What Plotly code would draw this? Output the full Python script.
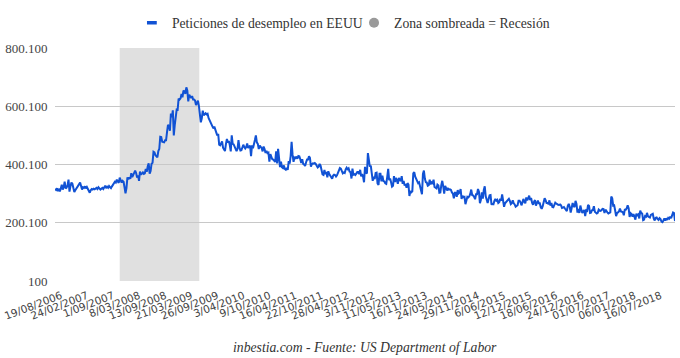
import plotly.graph_objects as go
import pandas as pd

# Weekly initial jobless claims (thousands), week ending Saturday
claims_2006 = [316, 313, 318, 309, 314, 308, 318, 331, 314, 322, 341, 318, 321, 329, 348, 307, 325, 338, 334, 316]
claims_2007 = [306, 312, 318, 324, 328, 333, 338, 326, 314, 322, 320, 325, 318, 323, 314, 309, 303,
               312, 316, 314, 317, 315, 318, 320, 316, 322, 318, 314, 317, 320, 316, 322, 327, 321,
               324, 320, 326, 322, 319, 325, 331, 334, 341, 338, 348, 342, 337, 355, 346, 338, 344, 341]
claims_2008 = [322, 301, 319, 356, 349, 356, 351, 370, 357, 366, 375, 379, 371, 355, 363, 344, 376,
               365, 369, 373, 368, 370, 385, 375, 393, 404, 369, 378, 403, 406, 444, 442, 432, 429,
               425, 446, 454, 495, 494, 478, 478, 476, 483, 483, 511, 536, 533, 516, 575, 562, 586, 500]
claims_2009 = [535, 560, 589, 588, 626, 623, 627, 642, 631, 654, 651, 643, 665, 654, 617, 640, 631,
               628, 635, 623, 623, 620, 604, 616, 619, 601, 580, 545, 559, 585, 569, 572, 576, 572,
               574, 560, 551, 545, 533, 531, 524, 530, 520, 512, 500, 505, 468, 466, 475, 479, 458, 448]
claims_2010 = [446, 470, 488, 476, 481, 467, 445, 500, 471, 469, 462, 455, 446, 454, 484, 458, 448,
               449, 459, 468, 460, 455, 460, 472, 457, 461, 465, 429, 466, 456, 476, 484, 500, 476,
               471, 453, 465, 460, 456, 445, 462, 453, 440, 447, 439, 441, 410, 436, 424, 418, 417, 414]
claims_2011 = [409, 445, 404, 454, 419, 391, 410, 391, 388, 397, 385, 382, 388, 382, 412, 403, 429,
               478, 434, 409, 424, 422, 427, 420, 429, 428, 418, 405, 418, 402, 400, 395, 408, 417,
               417, 428, 423, 393, 401, 404, 403, 405, 402, 397, 390, 393, 402, 396, 381, 366, 364,
               381, 367]
claims_2012 = [375, 356, 377, 367, 361, 355, 351, 362, 365, 364, 359, 363, 374, 380, 388, 386, 374,
               370, 373, 371, 383, 389, 384, 387, 376, 374, 352, 386, 365, 367, 364, 372, 374, 374,
               367, 382, 359, 367, 359, 339, 392, 372, 369, 439, 410, 393, 396, 372, 344, 358, 350, 371]
claims_2013 = [372, 335, 330, 368, 368, 342, 362, 344, 342, 336, 334, 357, 385, 346, 352, 339, 324,
               327, 360, 340, 354, 346, 334, 354, 346, 343, 360, 334, 344, 328, 333, 320, 336, 331,
               292, 309, 305, 308, 370, 374, 358, 350, 340, 336, 339, 323, 316, 298, 368, 379, 351, 339]
claims_2014 = [338, 327, 329, 348, 332, 339, 336, 348, 323, 320, 318, 331, 328, 303, 304, 329, 344,
               326, 300, 327, 315, 311, 317, 314, 315, 313, 304, 300, 284, 303, 303, 289, 312, 301,
               304, 316, 282, 293, 288, 289, 264, 284, 289, 287, 291, 299, 314, 295, 294, 289, 281, 298]
claims_2015 = [298, 316, 307, 267, 279, 304, 283, 313, 325, 291, 282, 268, 282, 294, 295, 262, 265,
               264, 275, 282, 276, 279, 268, 271, 282, 276, 297, 281, 255, 267, 270, 274, 277, 282,
               275, 264, 267, 277, 267, 263, 255, 259, 260, 276, 276, 271, 260, 269, 282, 272, 267, 287]
claims_2016 = [277, 284, 293, 278, 285, 269, 262, 272, 278, 259, 265, 276, 267, 267, 253, 248, 257,
               274, 284, 278, 268, 268, 264, 277, 259, 268, 254, 253, 266, 269, 266, 262, 262, 261,
               263, 260, 251, 252, 254, 249, 246, 240, 258, 265, 254, 235, 251, 268, 258, 254, 275,
               265, 235]
claims_2017 = [247, 234, 259, 246, 234, 239, 244, 223, 243, 241, 261, 258, 234, 235, 243, 244, 257,
               238, 236, 232, 234, 245, 242, 241, 244, 248, 247, 234, 245, 242, 236, 232, 234, 236,
               290, 284, 259, 260, 243, 223, 233, 238, 239, 249, 239, 238, 236, 226, 245, 245, 250, 260]
claims_2018 = [250, 220, 233, 230, 221, 230, 222, 211, 231, 226, 229, 215, 242, 233, 232, 209, 211,
               223, 221, 234, 222, 221, 218, 227, 228, 231, 214, 208, 217, 218, 213, 210, 216, 213,
               204, 202, 208, 215, 208, 215, 210, 217, 214, 221, 216, 224, 235, 233, 206]

claims_thousands = (claims_2006 + claims_2007 + claims_2008 + claims_2009 + claims_2010 +
                    claims_2011 + claims_2012 + claims_2013 + claims_2014 + claims_2015 +
                    claims_2016 + claims_2017 + claims_2018)
claims = [v * 1000 for v in claims_thousands]

first_week = "2006-08-19"
week_dates = pd.date_range(first_week, periods=len(claims), freq="7D")

x_tick_text = ["19/08/2006", "24/02/2007", "1/09/2007", "8/03/2008", "13/09/2008", "21/03/2009",
               "26/09/2009", "3/04/2010", "9/10/2010", "16/04/2011", "22/10/2011", "28/04/2012",
               "3/11/2012", "11/05/2013", "16/11/2013", "24/05/2014", "29/11/2014", "6/06/2015",
               "12/12/2015", "18/06/2016", "24/12/2016", "01/07/2017", "06/01/2018", "16/07/2018"]
x_tick_step = 27
x_tick_vals = list(week_dates[::x_tick_step])[:len(x_tick_text)]

y_tick_vals = [100, 200100, 400100, 600100, 800100]
y_tick_text = ["100", "200.100", "400.100", "600.100", "800.100"]

recession_start = "2007-12-01"
recession_end = "2009-06-30"

series_name = "Peticiones de desempleo en EEUU"
shade_name = "Zona sombreada = Recesión"
source_text = "inbestia.com - Fuente: US Department of Labor"

LINE_COLOR = "#1152d4"
SERIF = "Liberation Serif"

fig = go.Figure()
fig.add_vrect(x0=recession_start, x1=recession_end, fillcolor="#e0e0e0", opacity=1,
              layer="below", line_width=0)
fig.add_trace(go.Scatter(x=week_dates, y=claims, mode="lines", name=series_name,
                         line=dict(color=LINE_COLOR, width=2), showlegend=False,
                         hoverinfo="x+y"))
fig.add_trace(go.Scatter(x=[None], y=[None], mode="markers", name=series_name, legend="legend",
                         marker=dict(symbol="line-ew", size=7,
                                     line=dict(color=LINE_COLOR, width=3.5))))
fig.add_trace(go.Scatter(x=[None], y=[None], mode="markers", name=shade_name, legend="legend2",
                         marker=dict(symbol="circle", size=10, color="#9a9a9a")))

legend_font = dict(family=SERIF, size=13.7, color="#333333")
fig.update_layout(
    width=680, height=358,
    margin=dict(l=55, r=5, t=48, b=77, autoexpand=False),
    paper_bgcolor="white", plot_bgcolor="white",
    font=dict(family=SERIF, color="#333333"),
    legend=dict(orientation="h", x=0.124, xanchor="left", y=1.108, yanchor="middle",
                font=legend_font, itemwidth=30, bgcolor="rgba(0,0,0,0)"),
    legend2=dict(orientation="h", x=0.4823, xanchor="left", y=1.108, yanchor="middle",
                 font=legend_font, itemwidth=30, bgcolor="rgba(0,0,0,0)"),
    xaxis=dict(type="date", range=[week_dates[0], week_dates[-1]], showgrid=False,
               zeroline=False, showline=False, tickvals=x_tick_vals, ticktext=x_tick_text,
               tickangle=-21, tickfont=dict(family="DejaVu Sans", size=10.5, color="#444444"),
               ticks="", automargin=False, ticklabeloverflow="allow",
               ticklabelshift=6, ticklabelstandoff=6),
    yaxis=dict(range=[100, 800100], tickvals=y_tick_vals, ticktext=y_tick_text,
               showgrid=True, gridcolor="#c8c8c8", gridwidth=1, zeroline=False, showline=False,
               ticks="outside", ticklen=4, tickcolor="rgba(0,0,0,0)", automargin=False,
               tickfont=dict(family=SERIF, size=13, color="#444444")),
    annotations=[dict(text="<i>" + source_text + "</i>", xref="paper", yref="paper",
                      x=0.5, y=-0.285, xanchor="center", yanchor="middle", showarrow=False,
                      font=dict(family=SERIF, size=13.7, color="#333333"))],
    showlegend=True,
)

fig.write_html("out.html", config={"displayModeBar": False},
               post_script="document.body.style.margin='0';")
